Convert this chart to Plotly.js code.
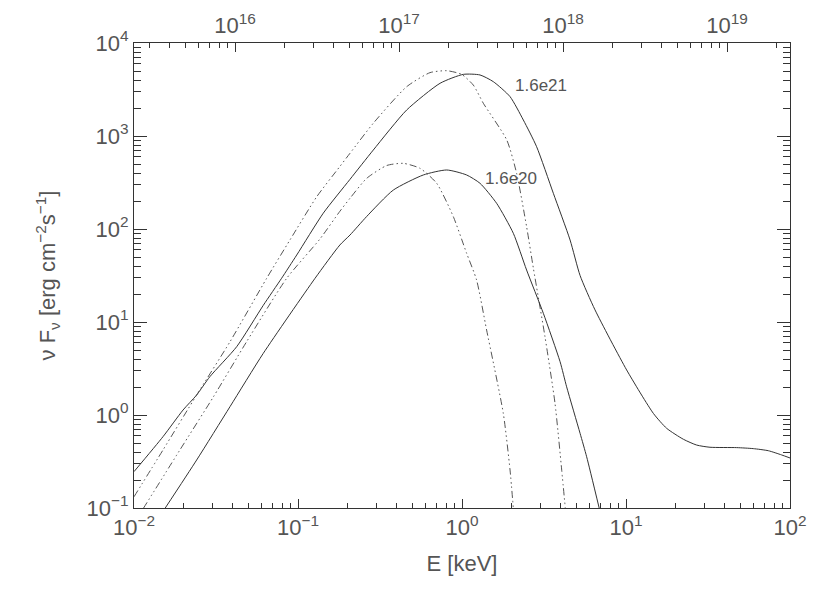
<!DOCTYPE html>
<html>
<head>
<meta charset="utf-8">
<script src="https://cdn.plot.ly/plotly-3.0.1.min.js"></script>
<style>
  html, body { margin: 0; padding: 0; background: #fff; }
  #chart { width: 830px; height: 593px; }
</style>
</head>
<body>
<div id="chart"></div>
<script>
// Energy (keV) and nu F_nu (erg cm^-2 s^-1)

// 1.6e21, solid
const eSolid21 = [0.01, 0.01503, 0.0199, 0.0241, 0.0290, 0.0423, 0.0614, 0.0794, 0.0982, 0.1426,
  0.2075, 0.2877, 0.460, 0.735, 1.019, 1.288, 1.552, 1.963, 2.366, 2.851,
  3.606, 4.560, 5.248, 6.471, 10.09, 14.69, 17.70, 22.39, 26.98, 32.51,
  47.3, 59.7, 73.8, 88.9, 100];
const fSolid21 = [0.246, 0.585, 1.13, 1.64, 2.58, 5.43, 15.1, 29.5, 52.5, 148,
  342, 706, 1905, 3690, 4600, 4530, 3840, 2650, 1486, 767,
  242, 76.2, 31.6, 13.5, 3.05, 1.04, 0.719, 0.548, 0.475, 0.450,
  0.446, 0.435, 0.413, 0.372, 0.345];

// 1.6e21, dash-dot-dot
const eDash21 = [0.01, 0.01503, 0.0241, 0.0385, 0.0644, 0.0893, 0.130, 0.180, 0.2075, 0.2877,
  0.460, 0.638, 0.807, 0.995, 1.172, 1.349, 1.875, 2.153, 2.477, 2.723,
  3.206, 3.690, 4.055, 4.266];
const fDash21 = [0.132, 0.421, 1.64, 6.14, 29.5, 76.2, 222, 470, 652, 1371,
  3390, 4800, 5035, 4600, 3530, 2250, 906, 397, 106, 38,
  6.95, 1.34, 0.256, 0.099];

// 1.6e20, solid
const eSolid20 = [0.01545, 0.0241, 0.0385, 0.0614, 0.127, 0.180, 0.2075, 0.262, 0.381, 0.581,
  0.807, 1.067, 1.288, 1.626, 2.056, 2.477, 3.133, 3.963, 4.345, 5.248,
  5.754, 6.871];
const fSolid20 = [0.099, 0.328, 1.23, 4.60, 29.5, 67.3, 86.1, 136, 262, 381,
  431, 381, 310, 189, 89.9, 36.2, 12.4, 3.74, 2.01, 0.635,
  0.356, 0.099];

// 1.6e20, dash-dot-dot
const eDash20 = [0.0114, 0.01905, 0.0305, 0.0486, 0.0853, 0.136, 0.180, 0.2075, 0.262, 0.348,
  0.439, 0.555, 0.701, 0.885, 1.067, 1.227, 1.413, 1.786, 1.963, 2.056];
const fDash20 = [0.099, 0.421, 1.57, 6.14, 29.5, 78.0, 155, 214, 350, 482,
  508, 449, 310, 136, 54.8, 28.3, 8.20, 1.04, 0.256, 0.099];

// curve labels
const labelText = ['1.6e21', '1.6e20'];
const labelE = [2.05, 1.34];
const labelF = [3450, 353];

// tick labels
const xTickVals = [0.01, 0.1, 1, 10, 100];
const xTickText = ['10<sup>\u22122</sup>', '10<sup>\u22121</sup>', '10<sup>0</sup>', '10<sup>1</sup>', '10<sup>2</sup>'];
const yTickVals = [0.1, 1, 10, 100, 1000, 10000];
const yTickText = ['10<sup>\u22121</sup>', '10<sup>0</sup>', '10<sup>1</sup>', '10<sup>2</sup>', '10<sup>3</sup>', '10<sup>4</sup>'];
const nuTickVals = [1e16, 1e17, 1e18, 1e19];
const nuTickText = ['10<sup>16</sup>', '10<sup>17</sup>', '10<sup>18</sup>', '10<sup>19</sup>'];

const HZ_PER_KEV = 2.418e17;

// minor ticks 2..9 for each decade
function minorTicks(lo, hi) {
  const out = [];
  for (let p = lo; p < hi; p++) {
    for (let m = 2; m <= 9; m++) out.push(m * Math.pow(10, p));
  }
  return out;
}

const ink = '#333';
const dashInk = '#555';
const dashStyle = '7px,3px,1.5px,3px,1.5px,3px,1.5px,3px';
const font = { family: 'Liberation Sans, Arial, sans-serif', size: 22, color: '#555' };

function curve(x, y, dashed) {
  return {
    x: x, y: y,
    type: 'scatter', mode: 'lines',
    line: { color: dashed ? dashInk : ink, width: 1, dash: dashed ? dashStyle : 'solid', shape: 'spline', smoothing: 0.6 },
    hoverinfo: 'skip', showlegend: false
  };
}

const traces = [
  curve(eSolid21, fSolid21, false),
  curve(eDash21, fDash21, true),
  curve(eSolid20, fSolid20, false),
  curve(eDash20, fDash20, true),
  // invisible trace so the frequency axis on top is drawn
  {
    x: eSolid21.map(e => e * HZ_PER_KEV), y: fSolid21,
    xaxis: 'x2', yaxis: 'y',
    type: 'scatter', mode: 'lines',
    line: { width: 0, color: 'rgba(0,0,0,0)' },
    hoverinfo: 'skip', showlegend: false
  }
];

const annotations = labelText.map((t, i) => ({
  x: Math.log10(labelE[i]), y: Math.log10(labelF[i]),
  xref: 'x', yref: 'y',
  text: t, showarrow: false,
  xanchor: 'left', yanchor: 'middle',
  font: { family: font.family, size: 17, color: '#555' }
}));

const layout = {
  width: 830, height: 593,
  margin: { l: 134, r: 40, t: 43, b: 85 },
  paper_bgcolor: '#fff', plot_bgcolor: '#fff',
  font: font,
  showlegend: false,
  xaxis: {
    type: 'log', range: [-2, 2],
    tickmode: 'array', tickvals: xTickVals, ticktext: xTickText,
    ticks: 'inside', ticklen: 9, tickcolor: ink, tickwidth: 1,
    minor: { tickmode: 'array', tickvals: minorTicks(-2, 2), ticks: 'inside', ticklen: 5, tickcolor: ink, showgrid: false },
    showline: true, linecolor: ink, linewidth: 1, mirror: false,
    showgrid: false, zeroline: false,
    tickfont: font,
    title: { text: 'E [keV]', font: font, standoff: 16 }
  },
  xaxis2: {
    type: 'log', overlaying: 'x', side: 'top', anchor: 'y',
    range: [Math.log10(0.01 * HZ_PER_KEV), Math.log10(100 * HZ_PER_KEV)],
    tickmode: 'array', tickvals: nuTickVals, ticktext: nuTickText,
    ticks: 'inside', ticklen: 9, tickcolor: ink, tickwidth: 1,
    minor: { tickmode: 'array', tickvals: minorTicks(15, 20), ticks: 'inside', ticklen: 5, tickcolor: ink, showgrid: false },
    showline: true, linecolor: ink, linewidth: 1,
    showgrid: false, zeroline: false,
    tickfont: font
  },
  yaxis: {
    type: 'log', range: [-1, 4],
    tickmode: 'array', tickvals: yTickVals, ticktext: yTickText,
    ticks: 'inside', ticklen: 13, tickcolor: ink, tickwidth: 1,
    minor: { tickmode: 'array', tickvals: minorTicks(-1, 4), ticks: 'inside', ticklen: 7, tickcolor: ink, showgrid: false },
    showline: true, linecolor: ink, linewidth: 1, mirror: 'ticks',
    showgrid: false, zeroline: false,
    tickfont: font,
    title: { text: '\u03bd F<sub>\u03bd</sub> [erg cm<sup>\u22122</sup>s<sup>\u22121</sup>]', font: font, standoff: 24 }
  },
  annotations: annotations
};

Plotly.newPlot('chart', traces, layout, { displayModeBar: false, staticPlot: true });
</script>
</body>
</html>
